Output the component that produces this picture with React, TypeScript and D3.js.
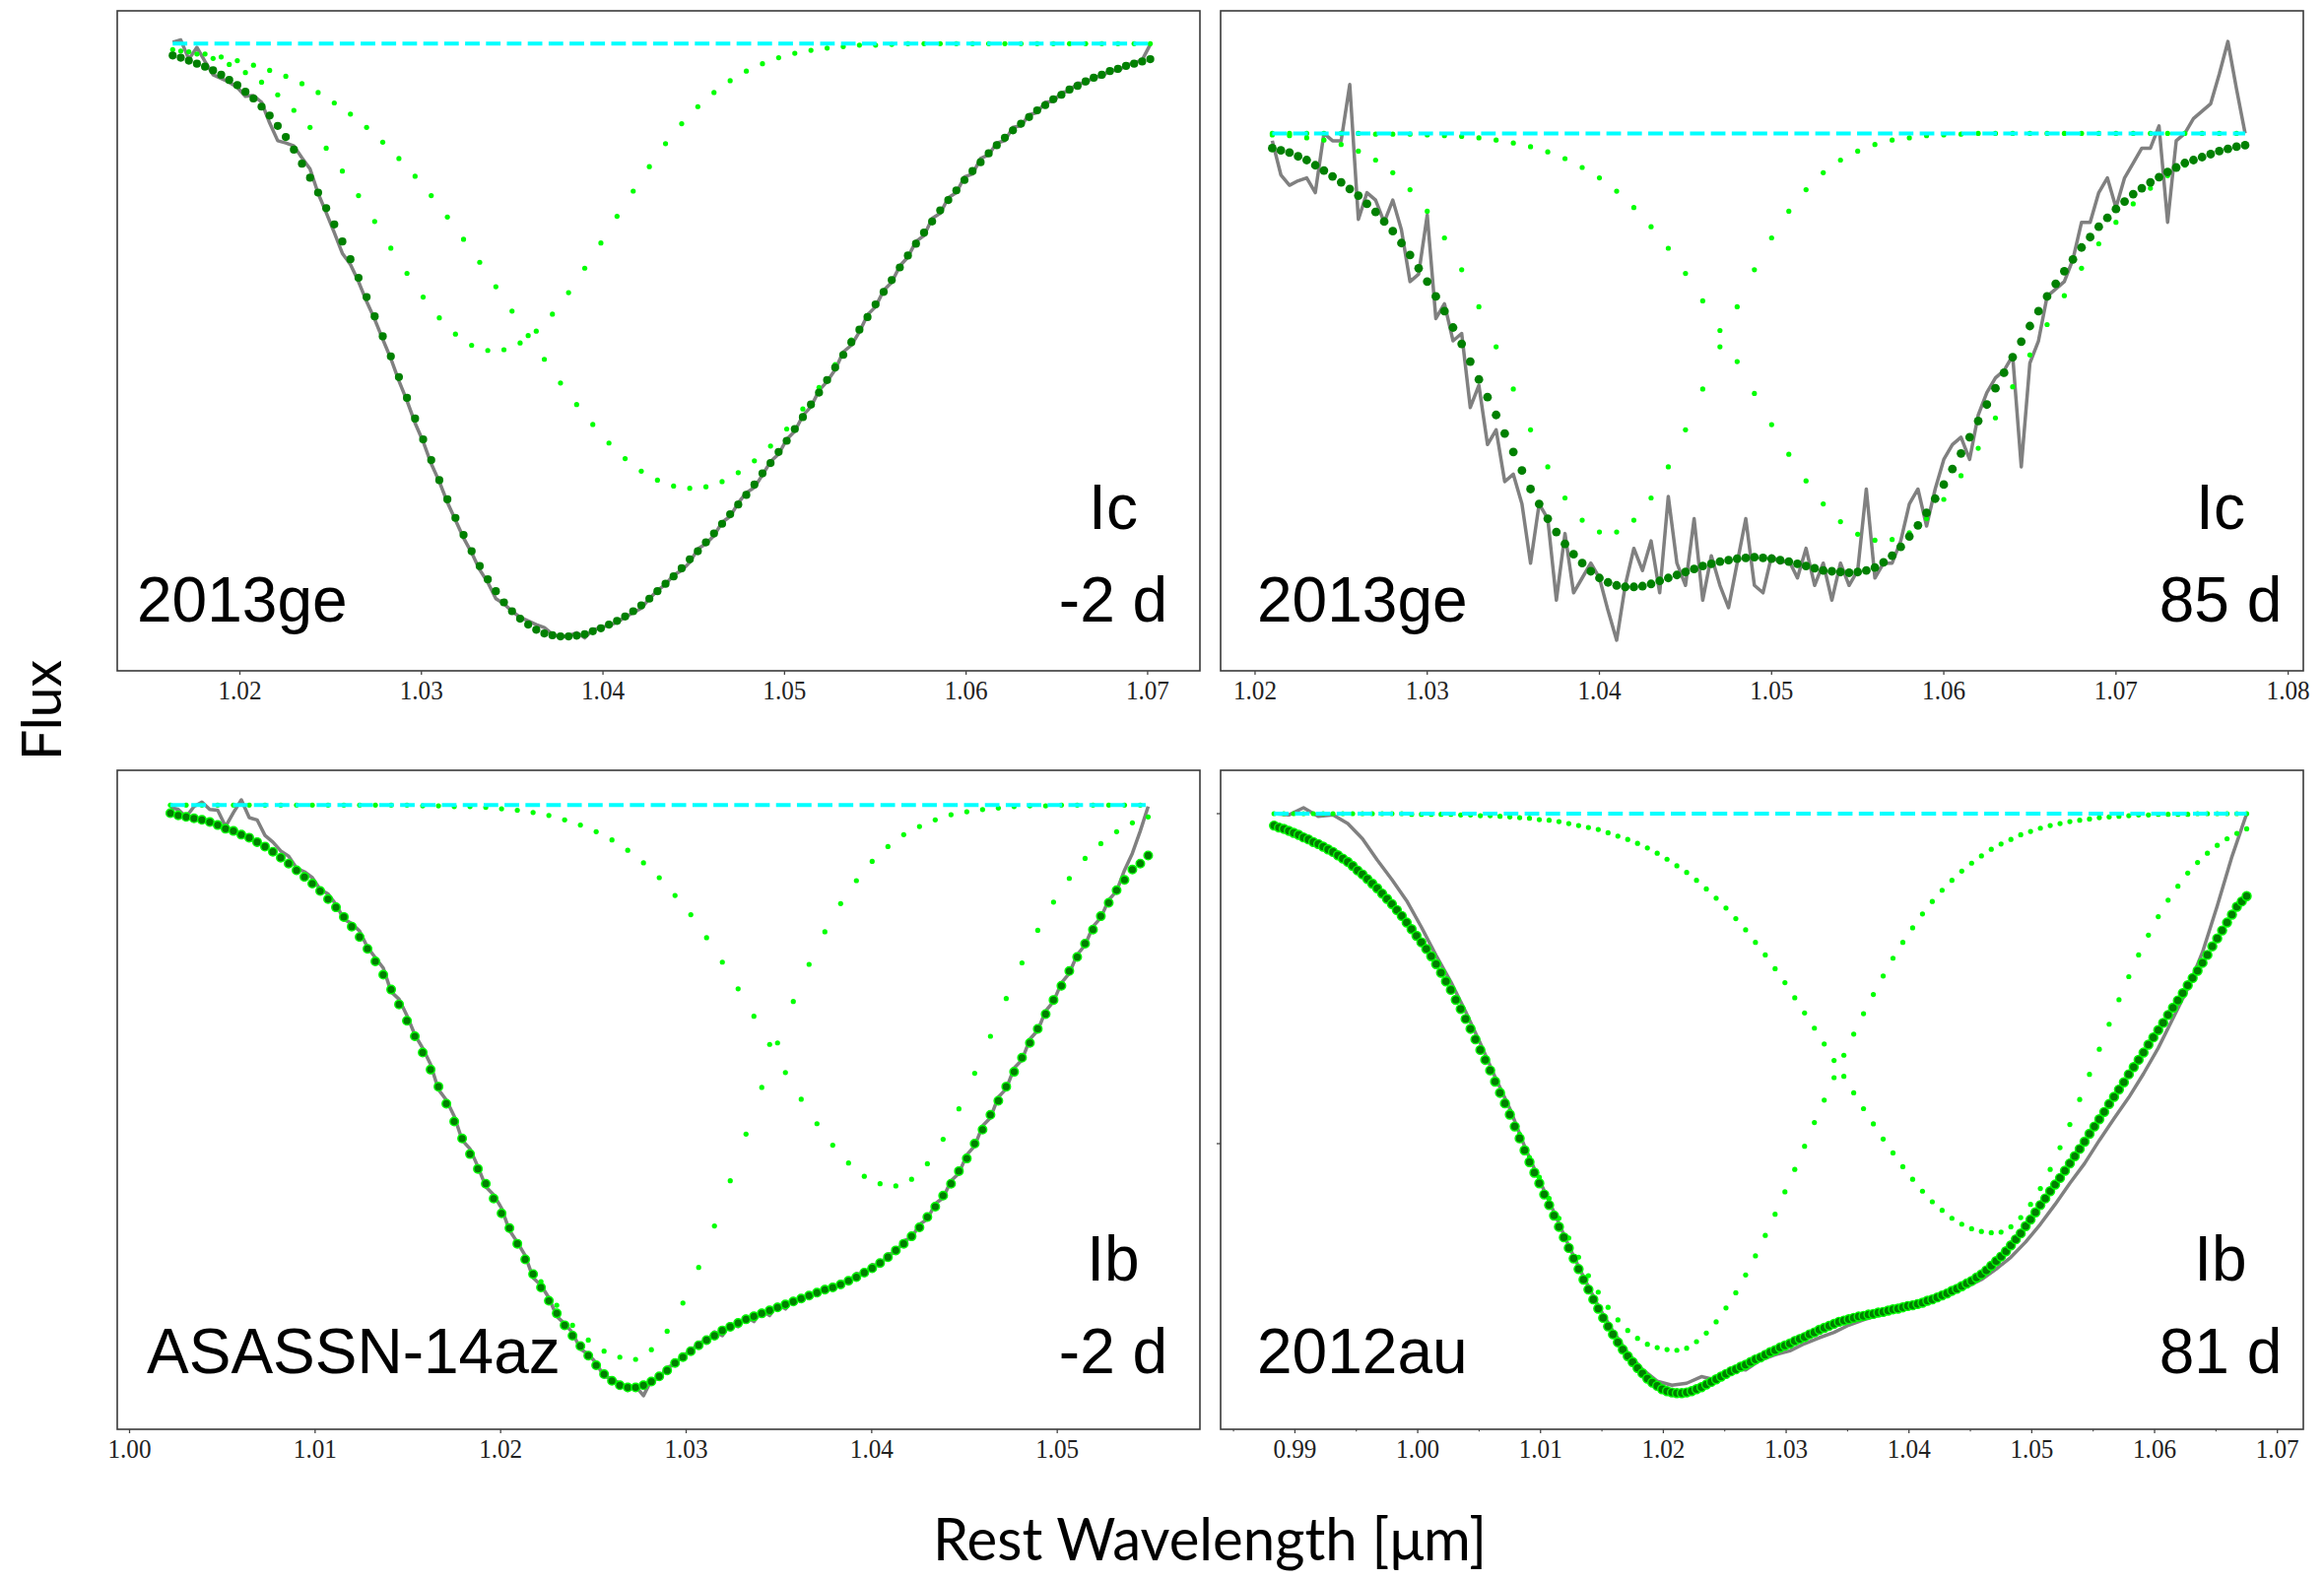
import React from "react";
import * as d3 from "d3";

const WIDTH = 2359;
const HEIGHT = 1604;
const CONTINUUM = 1.0;

// Each series is sampled on a regular wavelength grid: start + step * i (µm).

// ---------- SN 2013ge, Ic, -2 d ----------
const geEarlyObsStart = 1.0163;
const geEarlyObsStep = 0.000445;
const geEarlyObs = [
  1.002, 1.005, 0.979, 0.995, 0.976, 0.958, 0.953, 0.948, 0.941, 0.929,
  0.93, 0.921, 0.893, 0.869, 0.866, 0.862, 0.846, 0.831, 0.798, 0.772,
  0.745, 0.717, 0.702, 0.679, 0.652, 0.628, 0.601, 0.575, 0.545, 0.518,
  0.488, 0.463, 0.433, 0.409, 0.381, 0.357, 0.333, 0.313, 0.29, 0.273,
  0.251, 0.244, 0.234, 0.226, 0.221, 0.216, 0.212, 0.203, 0.199, 0.201,
  0.205, 0.198, 0.209, 0.212, 0.215, 0.219, 0.226, 0.232, 0.238, 0.251,
  0.262, 0.27, 0.283, 0.289, 0.3, 0.318, 0.325, 0.336, 0.354, 0.362,
  0.38, 0.394, 0.401, 0.418, 0.436, 0.446, 0.466, 0.477, 0.498, 0.51,
  0.532, 0.544, 0.56, 0.584, 0.593, 0.611, 0.634, 0.645, 0.667, 0.678,
  0.7, 0.712, 0.733, 0.741, 0.764, 0.771, 0.792, 0.799, 0.82, 0.824,
  0.845, 0.85, 0.866, 0.869, 0.887, 0.889, 0.904, 0.907, 0.921, 0.922,
  0.934, 0.936, 0.947, 0.946, 0.956, 0.955, 0.965, 0.963, 0.971, 0.974,
  0.978, 0.999,
];
const geEarlyFitStart = 1.0163;
const geEarlyFitStep = 0.000445;
const geEarlyFit = [
  0.984, 0.981, 0.977, 0.973, 0.969, 0.964, 0.958, 0.951, 0.944, 0.935,
  0.926, 0.915, 0.903, 0.889, 0.874, 0.857, 0.838, 0.819, 0.799, 0.778,
  0.756, 0.733, 0.709, 0.684, 0.658, 0.632, 0.605, 0.578, 0.55, 0.522,
  0.494, 0.466, 0.438, 0.411, 0.385, 0.36, 0.337, 0.315, 0.295, 0.277,
  0.261, 0.246, 0.234, 0.224, 0.216, 0.209, 0.204, 0.2015, 0.2, 0.2,
  0.201, 0.203, 0.207, 0.211, 0.216, 0.221, 0.227, 0.234, 0.242, 0.251,
  0.261, 0.271, 0.281, 0.292, 0.304, 0.315, 0.327, 0.339, 0.352, 0.365,
  0.378, 0.391, 0.405, 0.42, 0.434, 0.449, 0.464, 0.48, 0.496, 0.513,
  0.529, 0.546, 0.563, 0.58, 0.597, 0.614, 0.631, 0.648, 0.665, 0.681,
  0.698, 0.714, 0.73, 0.745, 0.76, 0.775, 0.789, 0.802, 0.816, 0.828,
  0.84, 0.852, 0.863, 0.873, 0.883, 0.892, 0.901, 0.91, 0.917, 0.925,
  0.931, 0.938, 0.943, 0.949, 0.954, 0.958, 0.963, 0.966, 0.97, 0.973,
  0.976, 0.979,
];
const geEarlyBlueStart = 1.016745;
const geEarlyBlueStep = 0.00089;
const geEarlyBlue = [
  0.99, 0.986, 0.98, 0.972, 0.961, 0.948, 0.931, 0.91, 0.887, 0.859,
  0.828, 0.795, 0.76, 0.724, 0.69, 0.658, 0.63, 0.608, 0.593, 0.586,
  0.587, 0.596, 0.612, 0.635, 0.664, 0.697, 0.731, 0.767, 0.801, 0.834,
  0.865, 0.892, 0.915, 0.934, 0.95, 0.963, 0.973, 0.981, 0.987, 0.991,
  0.994, 0.996, 0.998, 0.998, 0.999, 1, 1, 1, 1, 1,
  1, 1, 1, 1, 1, 1, 1, 1, 1, 1, 1,
];
const geEarlyRedStart = 1.0163;
const geEarlyRedStep = 0.00089;
const geEarlyRed = [
  0.992, 0.989, 0.986, 0.982, 0.977, 0.971, 0.964, 0.956, 0.946, 0.934,
  0.92, 0.905, 0.887, 0.867, 0.845, 0.821, 0.795, 0.766, 0.736, 0.705,
  0.672, 0.639, 0.606, 0.574, 0.542, 0.513, 0.486, 0.461, 0.44, 0.423,
  0.411, 0.403, 0.4, 0.402, 0.409, 0.421, 0.437, 0.457, 0.48, 0.507,
  0.536, 0.567, 0.6, 0.633, 0.666, 0.698, 0.73, 0.76, 0.789, 0.816,
  0.84, 0.863, 0.883, 0.901, 0.917, 0.931, 0.943, 0.954, 0.963, 0.97, 0.976,
];

// ---------- SN 2013ge, Ic, 85 d ----------
const geLateObsStart = 1.021;
const geLateObsStep = 0.0005;
const geLateObs = [
  0.99, 0.944, 0.93, 0.936, 0.94, 0.92, 1.0, 0.99, 0.99, 1.066,
  0.884, 0.92, 0.91, 0.88, 0.91, 0.87, 0.8, 0.81, 0.89, 0.75,
  0.77, 0.72, 0.73, 0.63, 0.66, 0.58, 0.6, 0.53, 0.54, 0.5,
  0.42, 0.5, 0.48, 0.37, 0.46, 0.38, 0.4, 0.42, 0.4, 0.356,
  0.316, 0.39, 0.44, 0.41, 0.45, 0.38, 0.51, 0.42, 0.39, 0.48,
  0.37, 0.43, 0.39, 0.36, 0.42, 0.48, 0.39, 0.38, 0.43, 0.42,
  0.424, 0.4, 0.44, 0.39, 0.42, 0.37, 0.42, 0.39, 0.41, 0.52,
  0.4, 0.42, 0.42, 0.45, 0.5, 0.52, 0.47, 0.52, 0.56, 0.58,
  0.59, 0.56, 0.62, 0.65, 0.67, 0.68, 0.7, 0.55, 0.69, 0.72,
  0.78, 0.79, 0.8, 0.83, 0.88, 0.88, 0.92, 0.94, 0.9, 0.94,
  0.96, 0.98, 0.98, 1.01, 0.88, 0.99, 1.0, 1.02, 1.03, 1.04,
  1.08, 1.124, 1.06, 1.0,
];
const geLateFitStart = 1.021;
const geLateFitStep = 0.0005;
const geLateFit = [
  0.98, 0.977, 0.974, 0.969, 0.964, 0.957, 0.95, 0.942, 0.934, 0.925,
  0.916, 0.905, 0.894, 0.881, 0.868, 0.852, 0.836, 0.818, 0.8, 0.78,
  0.76, 0.738, 0.716, 0.692, 0.668, 0.644, 0.62, 0.595, 0.57, 0.545,
  0.52, 0.5, 0.48, 0.462, 0.446, 0.432, 0.42, 0.409, 0.4, 0.394,
  0.39, 0.388, 0.388, 0.389, 0.392, 0.396, 0.4, 0.404, 0.408, 0.412,
  0.416, 0.419, 0.422, 0.424, 0.426, 0.427, 0.428, 0.427, 0.426, 0.424,
  0.422, 0.419, 0.416, 0.413, 0.41, 0.409, 0.408, 0.407, 0.408, 0.41,
  0.414, 0.421, 0.43, 0.442, 0.456, 0.471, 0.488, 0.507, 0.526, 0.547,
  0.568, 0.59, 0.612, 0.634, 0.656, 0.677, 0.698, 0.719, 0.74, 0.76,
  0.78, 0.797, 0.814, 0.83, 0.846, 0.86, 0.874, 0.886, 0.898, 0.908,
  0.918, 0.926, 0.934, 0.941, 0.948, 0.954, 0.96, 0.964, 0.968, 0.972,
  0.976, 0.979, 0.982, 0.984,
];
const geLateBlueStart = 1.021;
const geLateBlueStep = 0.001;
const geLateBlue = [
  0.998, 0.997, 0.994, 0.991, 0.985, 0.976, 0.964, 0.947, 0.924, 0.895,
  0.859, 0.816, 0.766, 0.712, 0.655, 0.6, 0.55, 0.508, 0.478, 0.462,
  0.462, 0.478, 0.508, 0.55, 0.6, 0.655, 0.712, 0.766, 0.816, 0.859,
  0.895, 0.924, 0.947, 0.964, 0.976, 0.985, 0.991, 0.994, 0.997, 0.998,
  0.999, 1, 1, 1, 1, 1, 1, 1, 1, 1,
  1, 1, 1, 1, 1, 1, 1,
];
const geLateRedStart = 1.021;
const geLateRedStep = 0.001;
const geLateRed = [
  1, 1, 1, 1, 1, 1, 0.999, 0.999, 0.999, 0.998,
  0.997, 0.996, 0.994, 0.991, 0.987, 0.982, 0.975, 0.966, 0.954, 0.94,
  0.922, 0.9, 0.874, 0.845, 0.811, 0.774, 0.734, 0.692, 0.649, 0.607,
  0.567, 0.531, 0.5, 0.476, 0.459, 0.451, 0.452, 0.461, 0.48, 0.506,
  0.538, 0.575, 0.616, 0.658, 0.701, 0.742, 0.781, 0.818, 0.851, 0.88,
  0.905, 0.926, 0.943, 0.957, 0.968, 0.977, 0.983,
];

// ---------- ASASSN-14az, Ib, -2 d ----------
const azObsStart = 1.0022;
const azObsStep = 0.000425;
const azObs = [
  0.997, 0.994, 0.984, 0.998, 1.004, 0.994, 0.993, 0.971, 0.99, 1.007,
  0.983, 0.98, 0.959, 0.95, 0.938, 0.931, 0.915, 0.91, 0.902, 0.886,
  0.88, 0.866, 0.846, 0.84, 0.83, 0.808, 0.794, 0.78, 0.748, 0.738,
  0.716, 0.69, 0.672, 0.65, 0.616, 0.602, 0.58, 0.548, 0.536, 0.512,
  0.485, 0.474, 0.456, 0.426, 0.41, 0.392, 0.362, 0.352, 0.335, 0.31,
  0.3, 0.288, 0.266, 0.259, 0.247, 0.229, 0.226, 0.219, 0.21, 0.216,
  0.203, 0.224, 0.226, 0.241, 0.245, 0.258, 0.262, 0.275, 0.276, 0.289,
  0.284, 0.3, 0.296, 0.31, 0.303, 0.318, 0.311, 0.326, 0.32, 0.334,
  0.33, 0.341, 0.338, 0.35, 0.346, 0.357, 0.355, 0.368, 0.366, 0.38,
  0.378, 0.394, 0.396, 0.412, 0.416, 0.434, 0.441, 0.462, 0.47, 0.493,
  0.503, 0.528, 0.54, 0.567, 0.578, 0.606, 0.617, 0.645, 0.656, 0.684,
  0.696, 0.722, 0.735, 0.76, 0.773, 0.798, 0.811, 0.836, 0.848, 0.872,
  0.884, 0.912, 0.935, 0.965, 0.998,
];
const azFitStart = 1.0022;
const azFitStep = 0.000425;
const azFit = [
  0.989, 0.986, 0.984, 0.982, 0.98, 0.977, 0.973, 0.968, 0.965, 0.96,
  0.956, 0.95, 0.944, 0.937, 0.929, 0.921, 0.912, 0.903, 0.894, 0.884,
  0.873, 0.862, 0.849, 0.836, 0.822, 0.806, 0.789, 0.771, 0.751, 0.731,
  0.709, 0.688, 0.666, 0.643, 0.62, 0.597, 0.573, 0.55, 0.529, 0.509,
  0.489, 0.469, 0.449, 0.429, 0.408, 0.387, 0.367, 0.349, 0.331, 0.314,
  0.298, 0.284, 0.27, 0.257, 0.244, 0.232, 0.223, 0.217, 0.214, 0.214,
  0.217, 0.222, 0.229, 0.237, 0.247, 0.255, 0.263, 0.271, 0.278, 0.284,
  0.291, 0.296, 0.301, 0.306, 0.31, 0.314, 0.318, 0.322, 0.326, 0.33,
  0.334, 0.338, 0.342, 0.346, 0.349, 0.353, 0.358, 0.363, 0.369, 0.375,
  0.382, 0.39, 0.399, 0.408, 0.418, 0.43, 0.444, 0.458, 0.473, 0.489,
  0.506, 0.523, 0.543, 0.562, 0.582, 0.601, 0.62, 0.64, 0.659, 0.679,
  0.698, 0.718, 0.737, 0.756, 0.776, 0.795, 0.813, 0.832, 0.85, 0.868,
  0.885, 0.899, 0.913, 0.921, 0.932,
];
const azBlueStart = 1.002625;
const azBlueStep = 0.00085;
const azBlue = [
  0.986, 0.982, 0.977, 0.968, 0.96, 0.95, 0.937, 0.921, 0.903, 0.884,
  0.862, 0.836, 0.806, 0.771, 0.731, 0.688, 0.643, 0.597, 0.55, 0.509,
  0.469, 0.43, 0.389, 0.357, 0.325, 0.298, 0.278, 0.263, 0.255, 0.252,
  0.265, 0.29, 0.328, 0.376, 0.432, 0.493, 0.556, 0.619, 0.679, 0.735,
  0.785, 0.829, 0.867, 0.898, 0.924, 0.944, 0.96, 0.971, 0.98, 0.987,
  0.991, 0.994, 0.996, 0.998, 0.999, 0.999, 1, 1, 1, 1,
  1, 1,
];
const azRedStart = 1.0022;
const azRedStep = 0.00085;
const azRed = [
  1, 1, 1, 1, 1, 1, 1, 1, 1, 1,
  1, 1, 1, 1, 1, 1, 0.999, 0.999, 0.998, 0.998,
  0.997, 0.995, 0.993, 0.99, 0.986, 0.98, 0.973, 0.964, 0.953, 0.939,
  0.922, 0.902, 0.878, 0.852, 0.821, 0.788, 0.752, 0.715, 0.677, 0.639,
  0.603, 0.57, 0.541, 0.517, 0.499, 0.489, 0.486, 0.495, 0.516, 0.549,
  0.59, 0.638, 0.688, 0.739, 0.787, 0.831, 0.869, 0.901, 0.928, 0.948,
  0.964, 0.976, 0.984,
];

// ---------- SN 2012au, Ib, 81 d ----------
const auObsStart = 0.9883;
const auObsStep = 0.0012;
const auObs = [
  1.0, 0.998, 1.009, 0.996, 0.998, 0.985, 0.962, 0.93, 0.9, 0.868,
  0.828, 0.785, 0.745, 0.7, 0.652, 0.601, 0.553, 0.496, 0.445, 0.396,
  0.345, 0.298, 0.254, 0.216, 0.183, 0.158, 0.14, 0.134, 0.137, 0.147,
  0.142, 0.16, 0.157, 0.172, 0.18, 0.186, 0.197, 0.206, 0.214, 0.225,
  0.233, 0.24, 0.252, 0.258, 0.262, 0.27, 0.276, 0.283, 0.294, 0.31,
  0.328, 0.351, 0.378, 0.408, 0.44, 0.47, 0.505, 0.538, 0.57, 0.606,
  0.645, 0.69, 0.735, 0.79, 0.86, 0.935, 1.0,
];
const auFitStart = 0.9883;
const auFitStep = 0.0004;
const auFit = [
  0.982, 0.979, 0.977, 0.974, 0.971, 0.968, 0.964, 0.961, 0.957, 0.954,
  0.95, 0.946, 0.942, 0.937, 0.932, 0.927, 0.921, 0.914, 0.908, 0.901,
  0.894, 0.887, 0.879, 0.871, 0.863, 0.854, 0.845, 0.835, 0.825, 0.815,
  0.805, 0.795, 0.784, 0.772, 0.759, 0.746, 0.733, 0.718, 0.704, 0.689,
  0.674, 0.658, 0.642, 0.627, 0.611, 0.594, 0.577, 0.561, 0.544, 0.526,
  0.508, 0.49, 0.472, 0.456, 0.44, 0.423, 0.407, 0.391, 0.374, 0.358,
  0.342, 0.326, 0.31, 0.294, 0.279, 0.264, 0.25, 0.236, 0.223, 0.211,
  0.199, 0.188, 0.178, 0.169, 0.16, 0.152, 0.144, 0.138, 0.133, 0.128,
  0.125, 0.123, 0.122, 0.122, 0.123, 0.125, 0.128, 0.131, 0.135, 0.139,
  0.143, 0.147, 0.151, 0.155, 0.158, 0.162, 0.165, 0.169, 0.173, 0.176,
  0.18, 0.184, 0.187, 0.191, 0.194, 0.197, 0.201, 0.204, 0.207, 0.211,
  0.214, 0.218, 0.221, 0.224, 0.227, 0.23, 0.232, 0.234, 0.236, 0.238,
  0.239, 0.241, 0.242, 0.244, 0.245, 0.247, 0.249, 0.25, 0.252, 0.254,
  0.255, 0.257, 0.259, 0.262, 0.264, 0.267, 0.27, 0.273, 0.277, 0.28,
  0.284, 0.288, 0.292, 0.297, 0.302, 0.308, 0.315, 0.322, 0.329, 0.337,
  0.346, 0.355, 0.364, 0.375, 0.385, 0.396, 0.407, 0.417, 0.428, 0.438,
  0.448, 0.459, 0.47, 0.481, 0.492, 0.503, 0.515, 0.526, 0.537, 0.548,
  0.56, 0.571, 0.582, 0.593, 0.605, 0.616, 0.627, 0.638, 0.65, 0.661,
  0.672, 0.683, 0.695, 0.706, 0.717, 0.728, 0.74, 0.751, 0.762, 0.774,
  0.786, 0.799, 0.811, 0.823, 0.835, 0.847, 0.859, 0.867, 0.875,
];
const auBlueStart = 0.9883;
const auBlueStep = 0.0008;
const auBlue = [
  0.982, 0.977, 0.971, 0.964, 0.957, 0.95, 0.942, 0.932, 0.921, 0.908,
  0.894, 0.879, 0.863, 0.845, 0.826, 0.806, 0.785, 0.76, 0.734, 0.706,
  0.676, 0.645, 0.614, 0.581, 0.549, 0.514, 0.479, 0.449, 0.417, 0.387,
  0.357, 0.328, 0.3, 0.275, 0.252, 0.233, 0.217, 0.205, 0.196, 0.191,
  0.188, 0.187, 0.19, 0.2, 0.213, 0.23, 0.251, 0.274, 0.301, 0.33,
  0.361, 0.393, 0.427, 0.461, 0.496, 0.532, 0.566, 0.6, 0.634, 0.666,
  0.697, 0.726, 0.754, 0.781, 0.805, 0.827, 0.848, 0.867, 0.884, 0.899,
  0.913, 0.925, 0.936, 0.946, 0.954, 0.961, 0.968, 0.973, 0.978, 0.982,
  0.985, 0.988, 0.99, 0.992, 0.994, 0.995, 0.996, 0.997, 0.998, 0.998,
  0.999, 0.999, 0.999, 0.999, 1, 1, 1, 1, 1, 1,
];
const auRedStart = 0.9883;
const auRedStep = 0.0008;
const auRed = [
  1, 1, 1, 1, 1, 1, 1, 1, 1, 1,
  1, 1, 1, 1, 0.999, 0.999, 0.999, 0.999, 0.999, 0.998,
  0.998, 0.997, 0.997, 0.996, 0.995, 0.994, 0.993, 0.991, 0.99, 0.988,
  0.985, 0.982, 0.979, 0.976, 0.971, 0.966, 0.961, 0.955, 0.948, 0.94,
  0.931, 0.921, 0.911, 0.899, 0.886, 0.872, 0.857, 0.841, 0.824, 0.805,
  0.786, 0.765, 0.744, 0.721, 0.698, 0.675, 0.651, 0.626, 0.602, 0.577,
  0.553, 0.53, 0.507, 0.486, 0.465, 0.446, 0.428, 0.412, 0.399, 0.387,
  0.378, 0.371, 0.367, 0.365, 0.366, 0.374, 0.388, 0.408, 0.432, 0.461,
  0.494, 0.529, 0.567, 0.605, 0.643, 0.681, 0.718, 0.753, 0.786, 0.816,
  0.844, 0.869, 0.89, 0.91, 0.926, 0.94, 0.952, 0.962, 0.97, 0.977,
];

// ---------- Axis ticks ----------
const geEarlyTicks = [1.02, 1.03, 1.04, 1.05, 1.06, 1.07];
const geLateTicks = [1.02, 1.03, 1.04, 1.05, 1.06, 1.07, 1.08];
const azTicks = [1.0, 1.01, 1.02, 1.03, 1.04, 1.05];
const auTicks = [0.99, 1.0, 1.01, 1.02, 1.03, 1.04, 1.05, 1.06, 1.07];
const auMinorTicks = [0.985, 0.995, 1.005, 1.015, 1.025, 1.035, 1.045, 1.055, 1.065];
const auFluxTicks = [0.5, 1.0];

type Series = { start: number; step: number; values: number[] };
type Frame = { left: number; top: number; width: number; height: number };

type PanelSpec = {
  id: string;
  frame: Frame;
  xDomain: [number, number];
  yDomain: [number, number];
  obs: Series;
  fit: Series;
  blue: Series;
  red: Series;
  ticks: number[];
  minorTicks: number[];
  yTicks: number[];
  name: string;
  snType: string;
  epoch: string;
  nameX: number;
  tagX: number;
  typeBaseline: number;
  epochBaseline: number;
  fitRadius: number;
  fitEdge: string | null;
};

const panels: PanelSpec[] = [
  {
    id: "ge-early",
    frame: { left: 119, top: 11, width: 1099, height: 670 },
    xDomain: [1.013245, 1.07288],
    yDomain: [0.1536, 1.0443],
    obs: { start: geEarlyObsStart, step: geEarlyObsStep, values: geEarlyObs },
    fit: { start: geEarlyFitStart, step: geEarlyFitStep, values: geEarlyFit },
    blue: { start: geEarlyBlueStart, step: geEarlyBlueStep, values: geEarlyBlue },
    red: { start: geEarlyRedStart, step: geEarlyRedStep, values: geEarlyRed },
    ticks: geEarlyTicks,
    minorTicks: [],
    yTicks: [],
    name: "2013ge",
    snType: "Ic",
    epoch: "-2 d",
    nameX: 139,
    tagX: 1130,
    typeBaseline: 537,
    epochBaseline: 631,
    fitRadius: 4.1,
    fitEdge: null,
  },
  {
    id: "ge-late",
    frame: { left: 1239, top: 11, width: 1099, height: 670 },
    xDomain: [1.018, 1.08088],
    yDomain: [0.2747, 1.1654],
    obs: { start: geLateObsStart, step: geLateObsStep, values: geLateObs },
    fit: { start: geLateFitStart, step: geLateFitStep, values: geLateFit },
    blue: { start: geLateBlueStart, step: geLateBlueStep, values: geLateBlue },
    red: { start: geLateRedStart, step: geLateRedStep, values: geLateRed },
    ticks: geLateTicks,
    minorTicks: [],
    yTicks: [],
    name: "2013ge",
    snType: "Ic",
    epoch: "85 d",
    nameX: 1276,
    tagX: 2254,
    typeBaseline: 537,
    epochBaseline: 631,
    fitRadius: 4.4,
    fitEdge: null,
  },
  {
    id: "az",
    frame: { left: 119, top: 782, width: 1099, height: 669 },
    xDomain: [0.999336, 1.05769],
    yDomain: [0.1576, 1.0469],
    obs: { start: azObsStart, step: azObsStep, values: azObs },
    fit: { start: azFitStart, step: azFitStep, values: azFit },
    blue: { start: azBlueStart, step: azBlueStep, values: azBlue },
    red: { start: azRedStart, step: azRedStep, values: azRed },
    ticks: azTicks,
    minorTicks: [],
    yTicks: [],
    name: "ASASSN-14az",
    snType: "Ib",
    epoch: "-2 d",
    nameX: 149,
    tagX: 1130,
    typeBaseline: 1300,
    epochBaseline: 1394,
    fitRadius: 4.3,
    fitEdge: "#00ff00",
  },
  {
    id: "au",
    frame: { left: 1239, top: 782, width: 1099, height: 669 },
    xDomain: [0.98395, 1.07211],
    yDomain: [0.0672, 1.0657],
    obs: { start: auObsStart, step: auObsStep, values: auObs },
    fit: { start: auFitStart, step: auFitStep, values: auFit },
    blue: { start: auBlueStart, step: auBlueStep, values: auBlue },
    red: { start: auRedStart, step: auRedStep, values: auRed },
    ticks: auTicks,
    minorTicks: auMinorTicks,
    yTicks: auFluxTicks,
    name: "2012au",
    snType: "Ib",
    epoch: "81 d",
    nameX: 1276,
    tagX: 2254,
    typeBaseline: 1300,
    epochBaseline: 1394,
    fitRadius: 4.5,
    fitEdge: "#00ff00",
  },
];

const SERIF = "'Liberation Serif', 'DejaVu Serif', serif";
const SANS = "'Liberation Sans', Arial, sans-serif";
const HUMANIST = "Lato, 'Open Sans', sans-serif";
const fmt = d3.format(".2f");

const waveOf = (s: Series, i: number) => s.start + s.step * i;

function SpectrumPanel({ spec }: { spec: PanelSpec }) {
  const { left, top, width, height } = spec.frame;
  const x = d3.scaleLinear().domain(spec.xDomain).range([left, left + width]);
  const y = d3.scaleLinear().domain(spec.yDomain).range([top + height, top]);

  const obsPath =
    d3
      .line<number>()
      .x((_, i) => x(waveOf(spec.obs, i)))
      .y((v) => y(v))(spec.obs.values) ?? "";

  const fitFirst = waveOf(spec.fit, 0);
  const fitLast = waveOf(spec.fit, spec.fit.values.length - 1);
  const contPath =
    d3
      .line<[number, number]>()
      .x((d) => x(d[0]))
      .y((d) => y(d[1]))([
      [fitFirst, CONTINUUM],
      [fitLast, CONTINUUM],
    ]) ?? "";

  const bottom = top + height;

  const componentDots = (s: Series, key: string) =>
    s.values.map((v, k) => (
      <circle key={`${key}${k}`} cx={x(waveOf(s, k))} cy={y(v)} r={2.6} fill="#00ff00" />
    ));

  return (
    <g>
      <path d={obsPath} fill="none" stroke="#808080" strokeWidth={3.5} strokeLinejoin="round" />
      {componentDots(spec.blue, "b")}
      {componentDots(spec.red, "r")}
      {spec.fit.values.map((v, i) => (
        <circle
          key={`f${i}`}
          cx={x(waveOf(spec.fit, i))}
          cy={y(v)}
          r={spec.fitRadius}
          fill="#008000"
          stroke={spec.fitEdge ?? "none"}
          strokeWidth={spec.fitEdge ? 1.4 : 0}
        />
      ))}
      <path d={contPath} fill="none" stroke="#00ffff" strokeWidth={4} strokeDasharray="14.8 6.4" />
      <rect x={left} y={top} width={width} height={height} fill="none" stroke="#3a3a3a" strokeWidth={1.6} />
      {spec.ticks.map((t) => (
        <g key={`t${t}`}>
          <line x1={x(t)} x2={x(t)} y1={bottom} y2={bottom + 4} stroke="#444" strokeWidth={1.3} />
          <text
            x={x(t)}
            y={bottom + 29}
            textAnchor="middle"
            fontFamily={SERIF}
            fontSize={28}
            fill="#222"
            textLength={44}
            lengthAdjust="spacingAndGlyphs"
          >
            {fmt(t)}
          </text>
        </g>
      ))}
      {spec.minorTicks.map((t) => (
        <line key={`m${t}`} x1={x(t)} x2={x(t)} y1={bottom} y2={bottom + 2.2} stroke="#444" strokeWidth={1.1} />
      ))}
      {spec.yTicks.map((t) => (
        <line key={`y${t}`} x1={left} x2={left - 4} y1={y(t)} y2={y(t)} stroke="#444" strokeWidth={1.3} />
      ))}
      <text x={spec.nameX} y={spec.epochBaseline} fontFamily={SANS} fontSize={64} fill="#000">
        {spec.name}
      </text>
      <text x={spec.tagX} y={spec.typeBaseline} fontFamily={SANS} fontSize={64} fill="#000" textAnchor="middle">
        {spec.snType}
      </text>
      <text x={spec.tagX} y={spec.epochBaseline} fontFamily={SANS} fontSize={64} fill="#000" textAnchor="middle">
        {spec.epoch}
      </text>
    </g>
  );
}

export default function App() {
  return (
    <svg
      width={WIDTH}
      height={HEIGHT}
      viewBox={`0 0 ${WIDTH} ${HEIGHT}`}
      style={{ position: "absolute", left: 0, top: 0, background: "#fff" }}
    >
      <rect x={0} y={0} width={WIDTH} height={HEIGHT} fill="#fff" />
      {panels.map((p) => (
        <SpectrumPanel key={p.id} spec={p} />
      ))}
      <text
        transform="translate(62,721) rotate(-90)"
        textAnchor="middle"
        fontFamily={HUMANIST}
        fontSize={56}
        fill="#000"
        textLength={102}
        lengthAdjust="spacingAndGlyphs"
      >
        Flux
      </text>
      <text
        x={1228}
        y={1584}
        textAnchor="middle"
        fontFamily={HUMANIST}
        fontSize={60}
        fill="#000"
        textLength={562}
        lengthAdjust="spacingAndGlyphs"
      >
        Rest Wavelength [μm]
      </text>
    </svg>
  );
}
